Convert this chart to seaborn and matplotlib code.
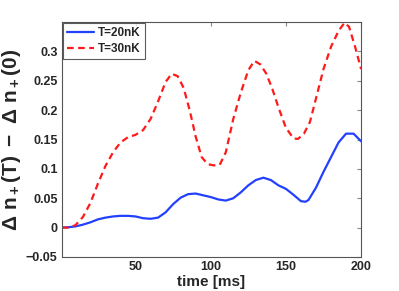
import matplotlib
matplotlib.use("Agg")
import matplotlib.pyplot as plt
import seaborn as sns
import pandas as pd

t_20 = [1, 5, 10, 15, 20, 25, 30, 35, 40, 45, 50, 55, 60, 65, 70, 75, 80, 85, 90, 95,
        100, 105, 110, 115, 120, 125, 130, 135, 140, 145, 150, 155, 160, 163, 165, 170,
        175, 180, 185, 190, 195, 200]
n_20 = [0.0, 0.0005, 0.002, 0.005, 0.009, 0.014, 0.017, 0.019, 0.020, 0.020, 0.019,
        0.016, 0.015, 0.017, 0.026, 0.040, 0.051, 0.057, 0.058, 0.055, 0.052, 0.048,
        0.046, 0.050, 0.060, 0.072, 0.081, 0.085, 0.081, 0.072, 0.066, 0.056, 0.045,
        0.044, 0.047, 0.068, 0.095, 0.120, 0.145, 0.160, 0.160, 0.147]

t_30 = [1, 5, 10, 15, 20, 25, 30, 35, 40, 45, 50, 55, 60, 65, 70, 74, 78, 82, 86, 90,
        94, 98, 102, 106, 110, 115, 120, 125, 129, 133, 137, 141, 145, 150, 155, 158,
        162, 166, 170, 175, 180, 185, 189, 192, 196, 200]
n_30 = [0.0, 0.0, 0.004, 0.018, 0.042, 0.075, 0.105, 0.128, 0.145, 0.154, 0.158, 0.166,
        0.185, 0.215, 0.248, 0.262, 0.258, 0.238, 0.200, 0.155, 0.120, 0.108, 0.106,
        0.107, 0.128, 0.185, 0.230, 0.268, 0.284, 0.278, 0.262, 0.236, 0.205, 0.170,
        0.152, 0.151, 0.160, 0.180, 0.220, 0.270, 0.308, 0.335, 0.349, 0.342, 0.308,
        0.270]

labels = ["T=20nK", "T=30nK"]
x_ticks = [50, 100, 150, 200]
y_ticks = [-0.05, 0, 0.05, 0.1, 0.15, 0.2, 0.25, 0.3]
y_ticklabels = ["\u22120.05", "0", "0.05", "0.1", "0.15", "0.2", "0.25", "0.3"]

df = pd.concat([
    pd.DataFrame({"t": t_20, "n": n_20, "T": labels[0]}),
    pd.DataFrame({"t": t_30, "n": n_30, "T": labels[1]}),
])

sns.set_style("white")
plt.rcParams["font.family"] = ["Liberation Sans", "DejaVu Sans"]
plt.rcParams["mathtext.fontset"] = "custom"
plt.rcParams["mathtext.rm"] = "Liberation Sans:bold"
plt.rcParams["mathtext.bf"] = "Liberation Sans:bold"
plt.rcParams["mathtext.it"] = "Liberation Sans:bold"

fig = plt.figure(figsize=(3.99, 2.91), dpi=100)
ax = fig.add_axes([0.155, 0.117, 0.75, 0.807])

sns.lineplot(data=df, x="t", y="n", hue="T", style="T",
             palette={labels[0]: "#2340ff", labels[1]: "#ff1a1a"},
             dashes={labels[0]: "", labels[1]: (3, 2)},
             linewidth=1.6, ax=ax, legend=True)

ax.set_xlim(1, 200)
ax.set_ylim(-0.05, 0.35)
ax.set_xticks(x_ticks)
ax.set_xticklabels([str(v) for v in x_ticks], fontsize=9, fontweight="bold")
ax.set_yticks(y_ticks)
ax.set_yticklabels(y_ticklabels, fontsize=9, fontweight="bold")
ax.tick_params(direction="in", length=3, top=True, right=True, color="#888888", pad=3)
for s in ax.spines.values():
    s.set_color("#555555")
    s.set_linewidth(0.8)

ax.set_xlabel("time [ms]", fontsize=11, fontweight="bold", labelpad=1)
ax.set_ylabel(r"$\Delta\ \mathrm{n}_+(\mathrm{T})\ -\ \Delta\ \mathrm{n}_+(0)$",
              fontsize=15, labelpad=2)

leg = ax.legend(loc="upper left", fontsize=8.5, frameon=True, fancybox=False,
                borderaxespad=0.1, handlelength=2.3, borderpad=0.35, labelspacing=0.3,
                handletextpad=0.3)
leg.get_frame().set_edgecolor("#333333")
leg.get_frame().set_linewidth(0.8)
for t in leg.get_texts():
    t.set_fontweight("bold")

fig.savefig("out.png", dpi=100)
